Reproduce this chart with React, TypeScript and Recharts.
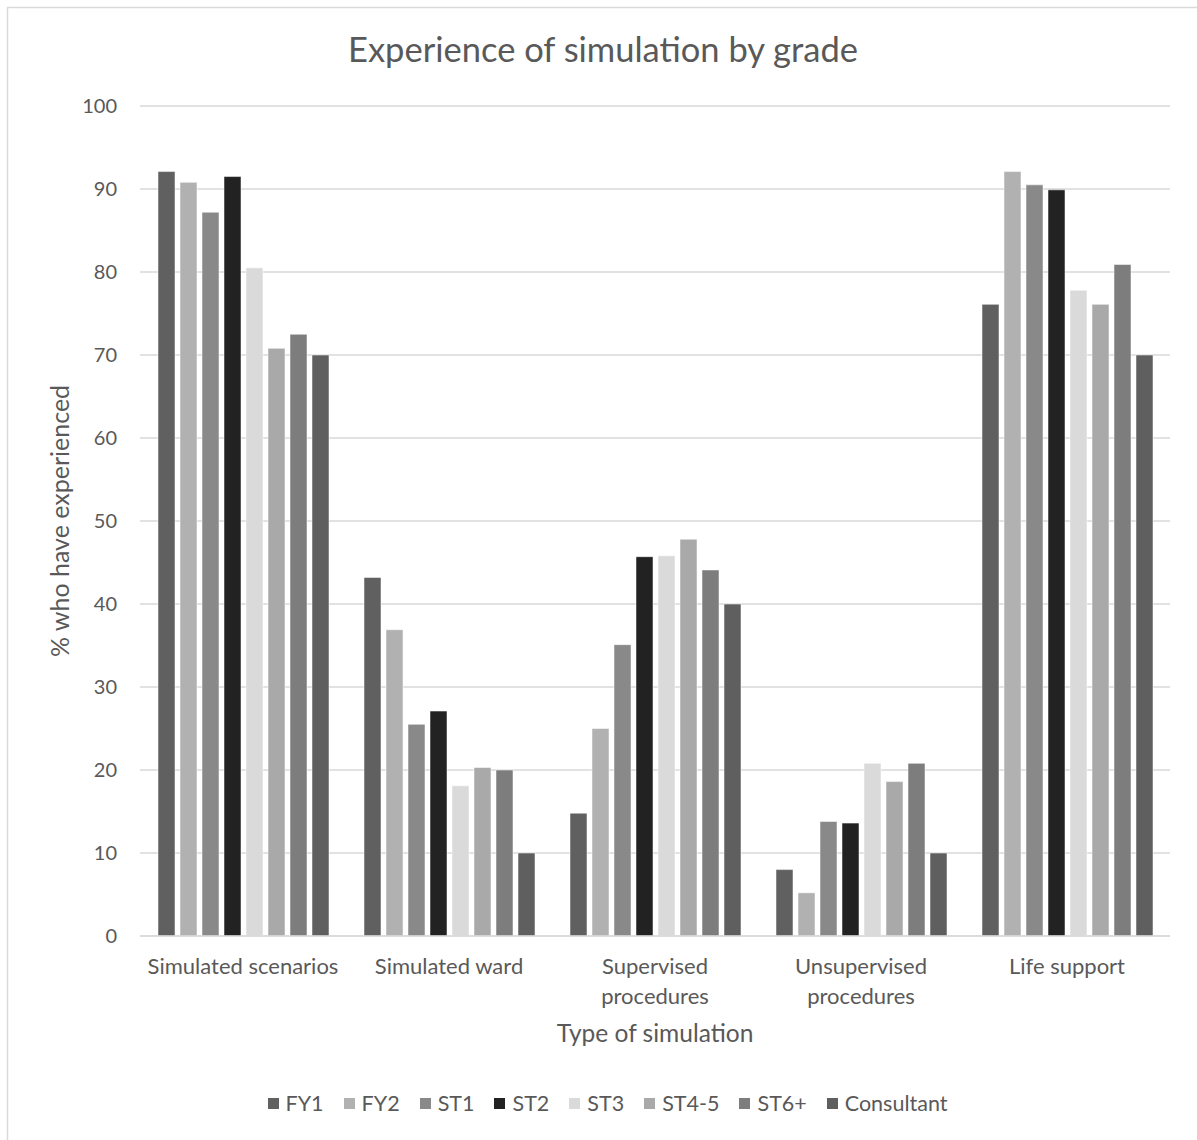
import React from "react";
import { BarChart, Bar, XAxis, YAxis, CartesianGrid, Legend, Label } from "recharts";

const categories = [
  "Simulated scenarios",
  "Simulated ward",
  "Supervised\nprocedures",
  "Unsupervised\nprocedures",
  "Life support",
];
const seriesNames = ["FY1", "FY2", "ST1", "ST2", "ST3", "ST4-5", "ST6+", "Consultant"];
const fy1 = [92.1, 43.2, 14.8, 8.0, 76.1];
const fy2 = [90.8, 36.9, 25.0, 5.2, 92.1];
const st1 = [87.2, 25.5, 35.1, 13.8, 90.5];
const st2 = [91.5, 27.1, 45.7, 13.6, 89.9];
const st3 = [80.5, 18.1, 45.8, 20.8, 77.8];
const st45 = [70.8, 20.3, 47.8, 18.6, 76.1];
const st6 = [72.5, 20.0, 44.1, 20.8, 80.9];
const consultant = [70.0, 10.0, 40.0, 10.0, 70.0];
const yTicks = [0, 10, 20, 30, 40, 50, 60, 70, 80, 90, 100];

const seriesValues = [fy1, fy2, st1, st2, st3, st45, st6, consultant];
const colors = ["#606060", "#b1b1b1", "#898989", "#222222", "#dadada", "#a9a9a9", "#7d7d7d", "#5f5f5f"];

const data = categories.map((c, i) => {
  const row: any = { name: c };
  seriesNames.forEach((s, j) => {
    row[s] = seriesValues[j][i];
  });
  return row;
});

const FONT = "Lato, 'Noto Sans', sans-serif";
const TXT = "#595959";

const CatTick = (props: any) => {
  const { x, y, payload } = props;
  const lines = String(payload.value).split("\n");
  return (
    <g transform={`translate(${x},${y})`}>
      {lines.map((l: string, i: number) => (
        <text
          key={i}
          x={0}
          y={i * 30}
          dy={30}
          textAnchor="middle"
          fill={TXT}
          fontSize={22}
          fontFamily={FONT}
        >
          {l}
        </text>
      ))}
    </g>
  );
};

const LegendContent = () => (
  <div
    style={{
      display: "flex",
      justifyContent: "center",
      alignItems: "center",
      fontFamily: FONT,
      fontSize: 21.5,
      color: TXT,
      gap: 20,
      paddingLeft: 18,
    }}
  >
    {seriesNames.map((s, i) => (
      <div key={s} style={{ display: "flex", alignItems: "center" }}>
        <span style={{ display: "inline-block", width: 11, height: 11, background: colors[i], marginRight: 7 }} />
        <span>{s}</span>
      </div>
    ))}
  </div>
);

export default function App() {
  return (
    <div style={{ position: "absolute", left: 0, top: 0, width: 1197, height: 1140, background: "#fff" }}>
      <svg width={1197} height={1140} style={{ position: "absolute", left: 0, top: 0 }}>
        <rect x={7.5} y={7.5} width={1250} height={1250} fill="none" stroke="#d9d9d9" strokeWidth={1.5} />
        <text x={603} y={62} textAnchor="middle" fill={TXT} fontSize={34.5} fontFamily={FONT}>
          Experience of simulation by grade
        </text>
      </svg>
      <div style={{ position: "absolute", left: 0, top: 0 }}>
        <BarChart
          width={1197}
          height={1140}
          data={data}
          margin={{ top: 106, right: 27, left: 40, bottom: 63 }}
          barCategoryGap={18}
          barGap={5}
        >
          <CartesianGrid vertical={false} stroke="#d9d9d9" strokeWidth={1.5} />
          <XAxis
            dataKey="name"
            tick={<CatTick />}
            tickLine={false}
            axisLine={{ stroke: "#d9d9d9", strokeWidth: 1.5 }}
            height={115}
            interval={0}
          >
            <Label value="Type of simulation" position="insideBottom" offset={9} fill={TXT} fontSize={24.5} fontFamily={FONT} />
          </XAxis>
          <YAxis
            domain={[0, 100]}
            ticks={yTicks}
            width={100}
            tickLine={false}
            axisLine={false}
            tickSize={0}
            tickMargin={23}
            tick={{ fill: TXT, fontSize: 20, fontFamily: FONT }}
          >
            <Label
              value="% who have experienced"
              angle={-90}
              position="insideLeft"
              offset={20}
              style={{ textAnchor: "middle" }}
              fill={TXT}
              fontSize={25}
              fontFamily={FONT}
            />
          </YAxis>
          <Legend
            verticalAlign="bottom"
            content={<LegendContent />}
            wrapperStyle={{ position: "absolute", top: 1090, left: 0, width: 1197 }}
          />
          {seriesNames.map((s, i) => (
            <Bar key={s} dataKey={s} fill={colors[i]} stroke="#ffffff" strokeOpacity={0.5} strokeWidth={1} isAnimationActive={false} />
          ))}
        </BarChart>
      </div>
    </div>
  );
}
